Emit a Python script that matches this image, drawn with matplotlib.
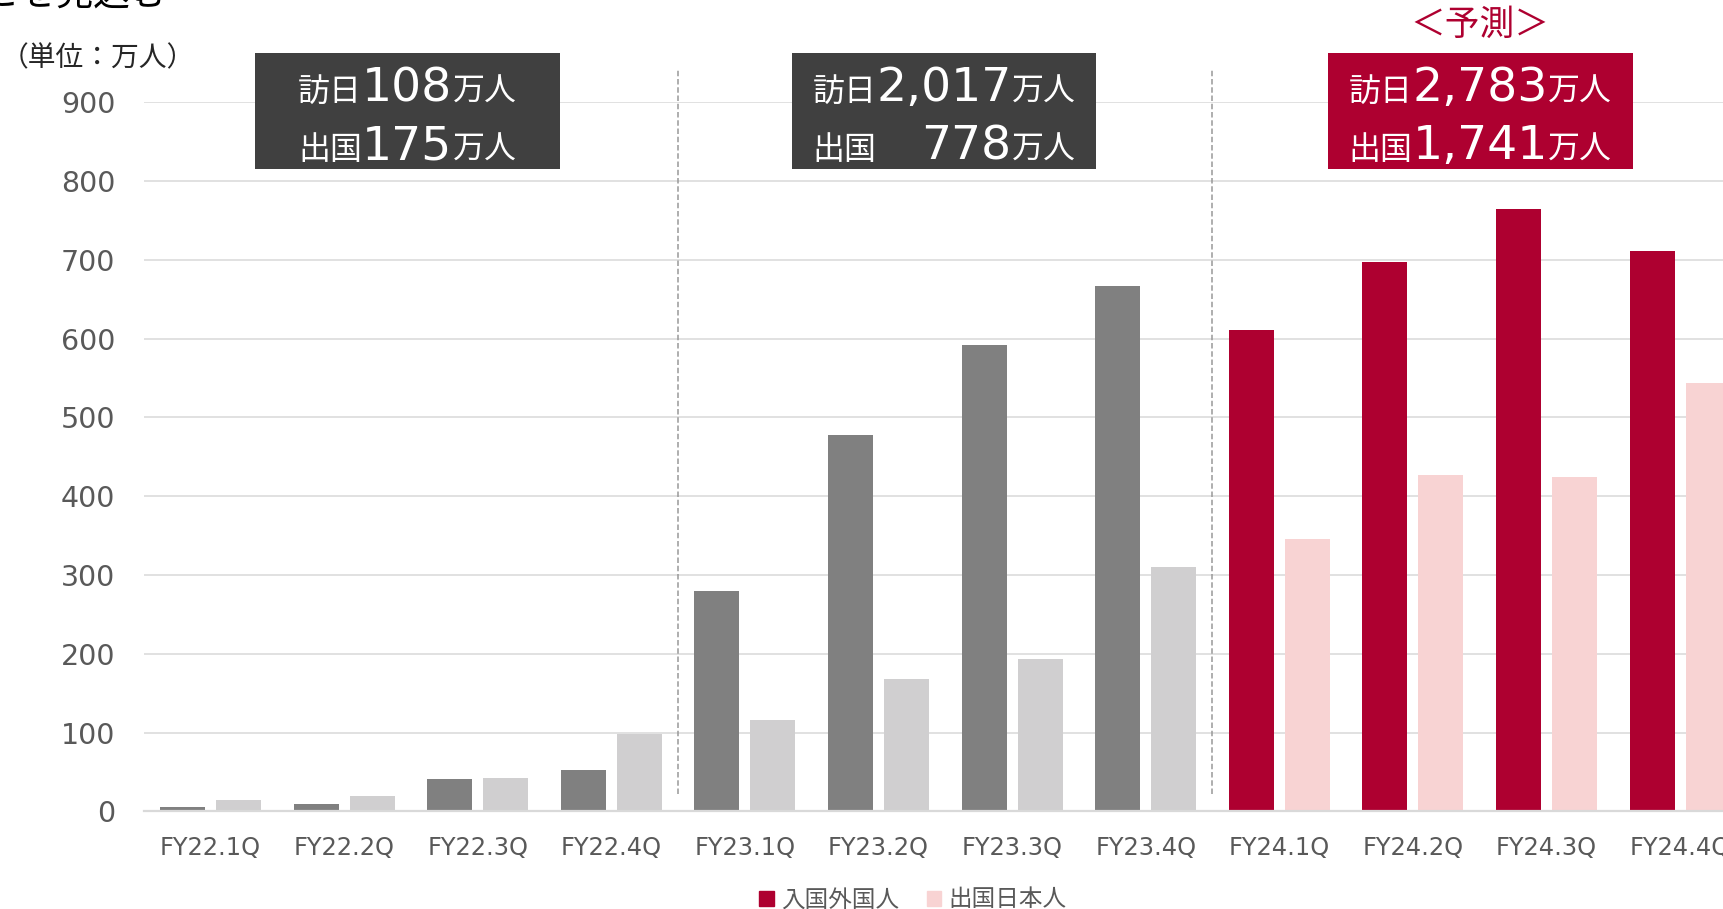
import numpy as np
import matplotlib
matplotlib.use('Agg')
import matplotlib.pyplot as plt
from matplotlib.patches import Rectangle, Patch
from matplotlib.transforms import IdentityTransform
from matplotlib.font_manager import FontProperties

# quarterly arrivals / departures (10k persons)
quarters = ['FY22.1Q', 'FY22.2Q', 'FY22.3Q', 'FY22.4Q',
            'FY23.1Q', 'FY23.2Q', 'FY23.3Q', 'FY23.4Q',
            'FY24.1Q', 'FY24.2Q', 'FY24.3Q', 'FY24.4Q']
inbound = [5, 10, 41, 52, 280, 478, 592, 667, 611, 697, 764, 711]
outbound = [15, 19, 43, 98, 116, 168, 194, 310, 346, 427, 424, 544]
forecast = [False] * 8 + [True] * 4

# fiscal-year totals shown in the header boxes
fy_inbound = ['108', '2,017', '2,783']
fy_outbound = ['175', '778', '1,741']
fy_box_color = ['#404040', '#404040', '#AE0030']

RED, PINK = '#AE0030', '#F8D3D3'
DARK, LIGHT = '#808080', '#D0CFD0'
CJK = 'Noto Sans CJK JP'
TXT = '#595959'

W, H = 1724, 909
fig = plt.figure(figsize=(W / 100, H / 100), dpi=100)
ax = fig.add_axes([143.7 / W, (H - 811.4) / H, 12 * 133.6 / W, (811.4 - 102.3) / H])

x = np.arange(len(quarters))
bw, off = 0.337, 0.21
col_in = [RED if f else DARK for f in forecast]
col_out = [PINK if f else LIGHT for f in forecast]
ax.bar(x - off, inbound, bw, color=col_in, zorder=2)
ax.bar(x + off, outbound, bw, color=col_out, zorder=2)

ax.set_xlim(-0.5, len(quarters) - 0.5)
ax.set_ylim(0, 900)
ax.set_yticks(range(0, 901, 100))
ax.set_xticks(x, quarters)
ax.yaxis.grid(True, color='#D9D9D9', lw=1.1, zorder=0)
ax.set_axisbelow(True)
for s in ['top', 'right', 'left']:
    ax.spines[s].set_visible(False)
ax.spines['bottom'].set_color('#D9D9D9')
ax.spines['bottom'].set_linewidth(1.6)
ax.tick_params(axis='y', length=0, pad=20.5, labelsize=20.5, labelcolor=TXT)
ax.tick_params(axis='x', length=0, pad=17.5, labelsize=17.4, labelcolor=TXT)

# fiscal year separators
for xv in [3.5, 7.5]:
    ax.plot([xv, xv], [22, 942], color='#999999', lw=1.1, ls=(0, (3.6, 1.8)),
            clip_on=False, zorder=3)

# header boxes with yearly totals
renderer = fig.canvas.get_renderer()
centers = [1.474, 5.49, 9.506]
ident = IdentityTransform()
for i, c in enumerate(centers):
    ax.add_patch(Rectangle((c - 1.14, 815), 2.28, 147, fc=fy_box_color[i], ec='none',
                           clip_on=False, zorder=5))
    cx = ax.transData.transform((c, 0))[0]
    rows = [('訪日', fy_inbound[i], H - 101), ('出国', fy_outbound[i], H - 159)]
    built = []
    for lab, num, by in rows:
        t_lab = fig.text(0, by, lab, family=CJK, size=23, color='white',
                         va='baseline', transform=ident, zorder=6)
        t_num = fig.text(0, by, num, family='DejaVu Sans', size=34, color='white',
                         va='baseline', transform=ident, zorder=6)
        t_unit = fig.text(0, by, '万人', family=CJK, size=23, color='white',
                          va='baseline', transform=ident, zorder=6)
        wl, wn, wu = [t.get_window_extent(renderer).width for t in (t_lab, t_num, t_unit)]
        built.append((t_lab, t_num, t_unit, wl, wn, wu))
    width = max(b[3] + b[4] + b[5] for b in built)
    left, right = cx - width / 2, cx + width / 2
    for t_lab, t_num, t_unit, wl, wn, wu in built:
        t_lab.set_x(left)
        t_unit.set_x(right - wu)
        t_num.set_x(right - wu - wn)

fig.text(1480, H - 25, '＜予測＞', family=CJK, size=25, color=RED,
         ha='center', va='center', transform=ident)

fig.text(1, H - 58, '（単位：万人）', family=CJK, size=20, color='#262626',
         ha='left', va='center', transform=ident)
fig.text(167, H - 6, 'ことを見込む', family=CJK, size=26.5, color='#000000',
         ha='right', va='baseline', transform=ident)

handles = [Patch(color=RED, label='入国外国人'), Patch(color=PINK, label='出国日本人')]
fig.legend(handles=handles, loc='center', bbox_to_anchor=(913 / W, 9 / H), ncol=2,
           frameon=False, prop=FontProperties(family=CJK, size=17), labelcolor=TXT,
           handlelength=0.6, handleheight=0.6, handletextpad=0.3, columnspacing=1.2,
           borderpad=0, borderaxespad=0)

fig.savefig('out.png', dpi=100)
